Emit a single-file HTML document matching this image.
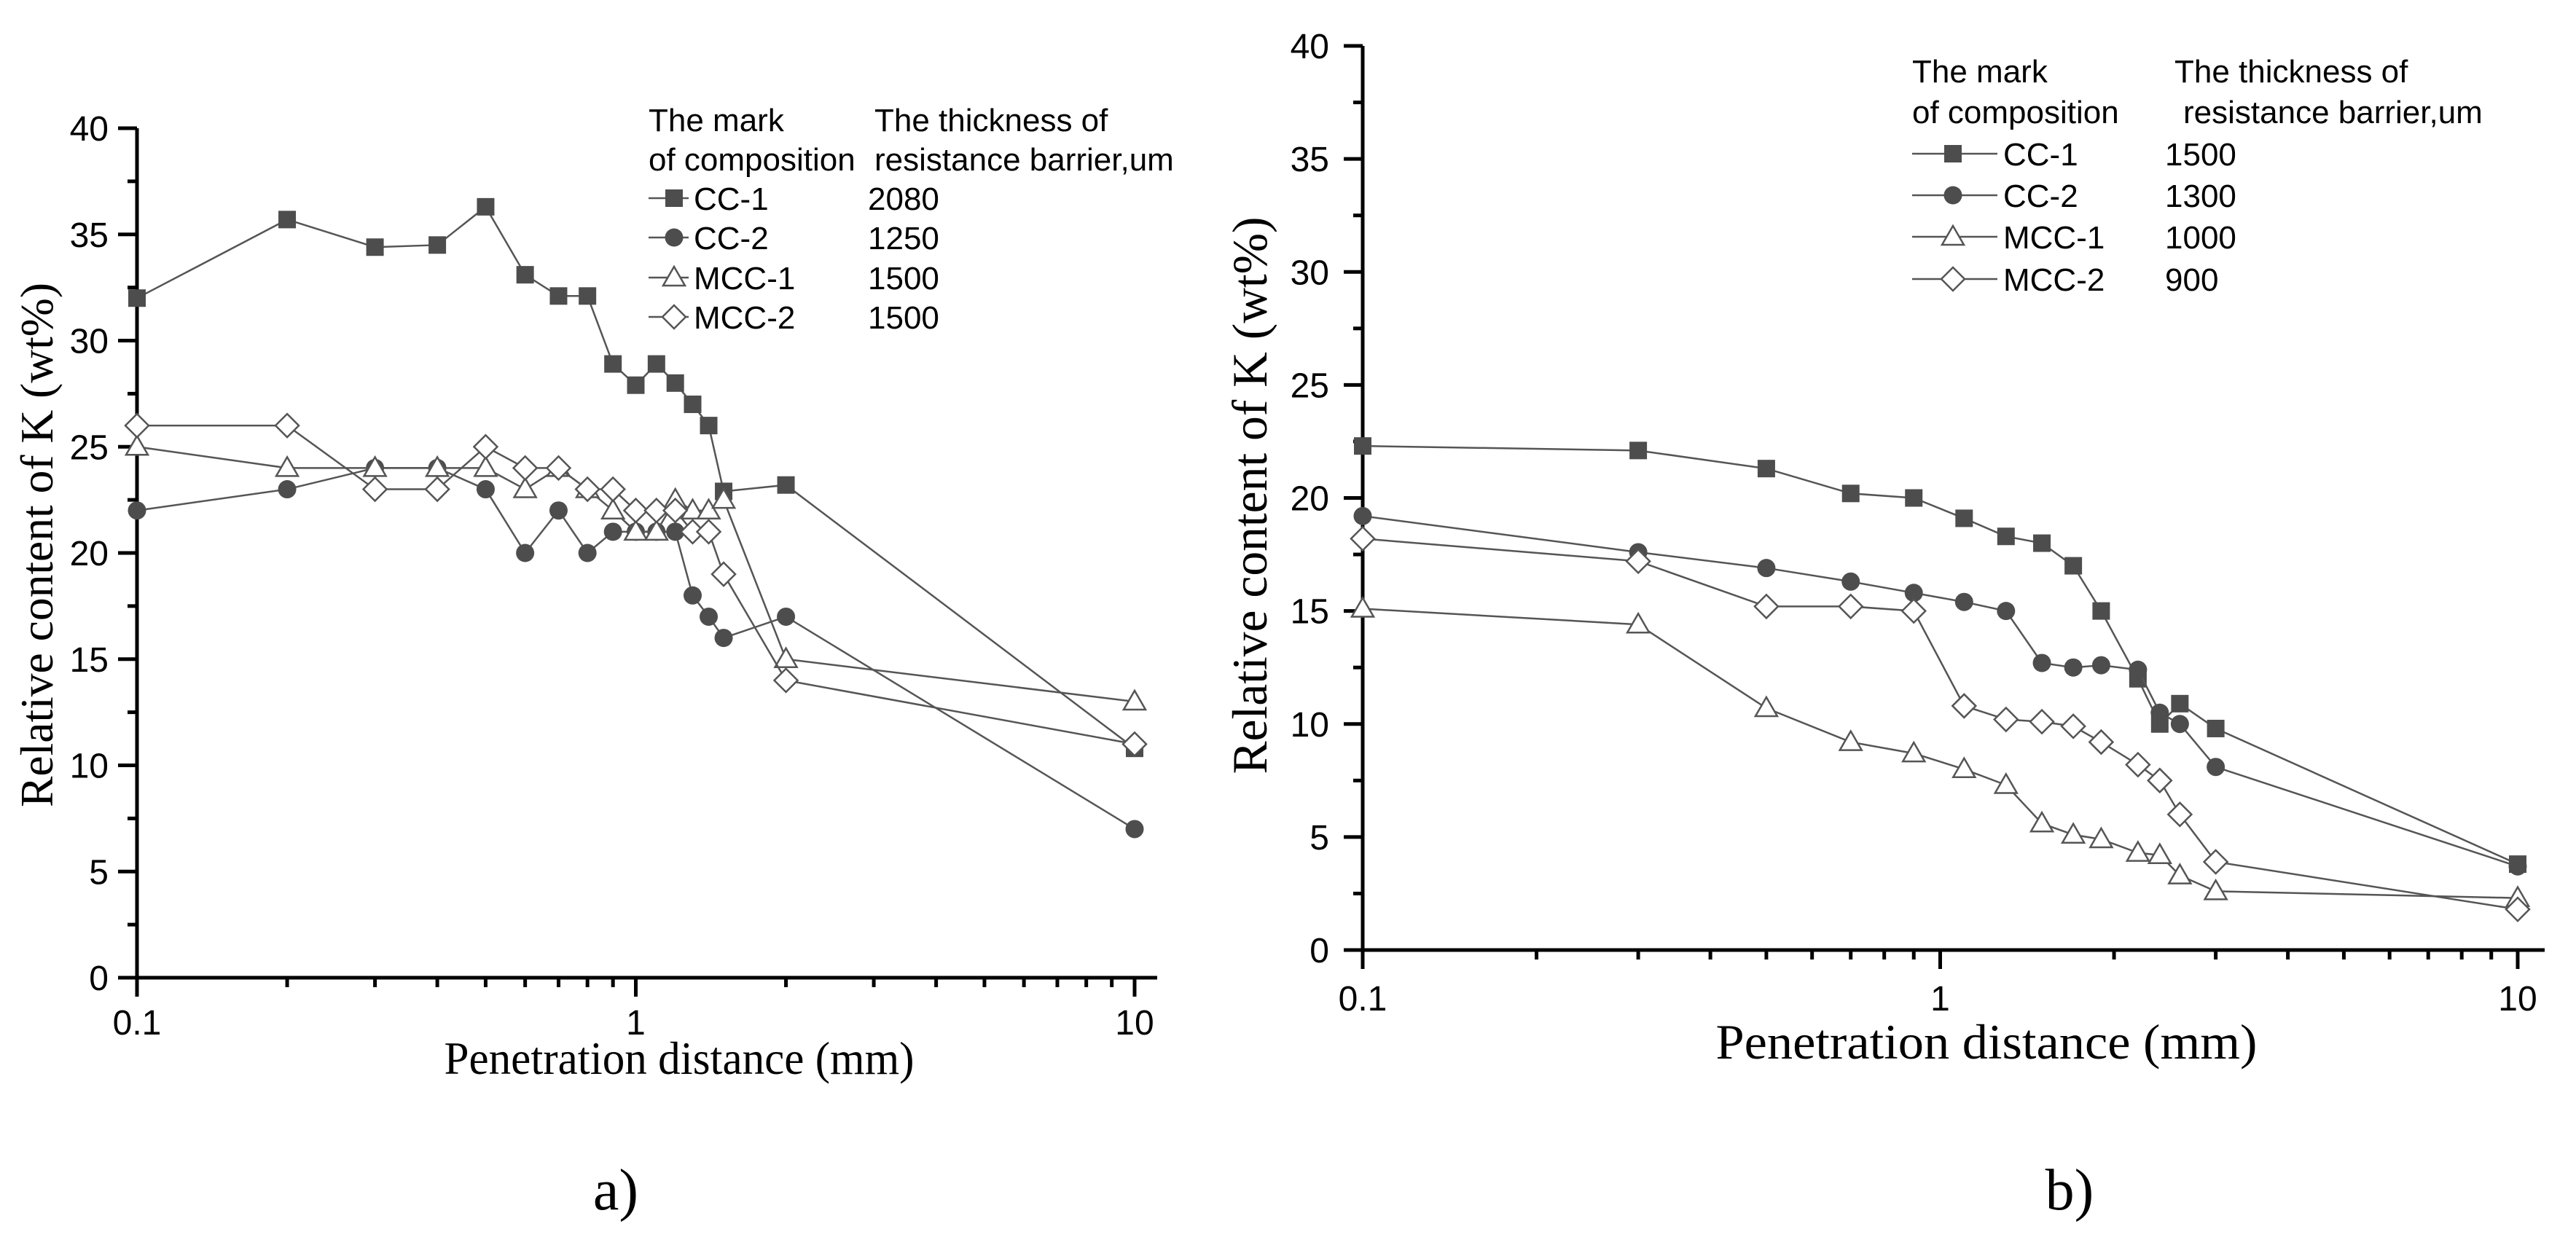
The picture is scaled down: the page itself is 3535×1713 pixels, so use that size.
<!DOCTYPE html>
<html><head><meta charset="utf-8"><style>
html,body{margin:0;padding:0;background:#fff;}
svg{display:block;}
</style></head><body>
<svg id="fig" width="3535" height="1713" viewBox="0 0 3535 1713" xmlns="http://www.w3.org/2000/svg">
<rect width="3535" height="1713" fill="#fff"/>
</svg>
<script>
// ---- data: panel a ----
const xA = [0.1,0.2,0.3,0.4,0.5,0.6,0.7,0.8,0.9,1.0,1.1,1.2,1.3,1.4,1.5,2,10];
const aCC1 = [32,35.7,34.4,34.5,36.3,33.1,32.1,32.1,28.9,27.9,28.9,28,27,26,22.9,23.2,10.8];
const aCC2 = [22,23,24,24,23,20,22,20,21,21,21,21,18,17,16,17,7];
const aMCC1 = [25,24,24,24,24,23,24,23,22,21,21,22.5,22,22,22.5,15,13];
const aMCC2 = [26,26,23,23,25,24,24,23,23,22,22,22,21,21,19,14,11];
const aValues = ["2080","1250","1500","1500"];
// ---- data: panel b ----
const xB = [0.1,0.3,0.5,0.7,0.9,1.1,1.3,1.5,1.7,1.9,2.2,2.4,2.6,3.0,10];
const bCC1 = [22.3,22.1,21.3,20.2,20.0,19.1,18.3,18.0,17.0,15.0,12.0,10.0,10.9,9.8,3.8];
const bCC2 = [19.2,17.6,16.9,16.3,15.8,15.4,15.0,12.7,12.5,12.6,12.4,10.5,10.0,8.1,3.7];
const bMCC1 = [15.1,14.4,10.7,9.2,8.7,8.0,7.3,5.6,5.1,4.9,4.3,4.2,3.3,2.6,2.3];
const bMCC2 = [18.2,17.2,15.2,15.2,15.0,10.8,10.2,10.1,9.9,9.2,8.2,7.5,6.0,3.9,1.8];
const bValues = ["1500","1300","1000","900"];
// ---- shared ----
const seriesNames = ["CC-1","CC-2","MCC-1","MCC-2"];
const yTicks = [0,5,10,15,20,25,30,35,40];
const xTickLabels = ["0.1","1","10"];

const NS="http://www.w3.org/2000/svg";
const svg=document.getElementById('fig');
function mk(tag,attrs,parent){const e=document.createElementNS(NS,tag);for(const k in attrs)e.setAttribute(k,attrs[k]);(parent||svg).appendChild(e);return e;}
const LINE="#555", FILL="#4d4d4d";

function marker(g,type,cx,cy){
  let m;
  if(type===0){m=mk('rect',{x:cx-12,y:cy-12,width:24,height:24,fill:FILL},g);}
  else if(type===1){m=mk('circle',{cx:cx,cy:cy,r:12.5,fill:FILL},g);}
  else if(type===2){m=mk('polygon',{points:`${cx},${cy-15} ${cx+15},${cy+11} ${cx-15},${cy+11}`,fill:"#fff",stroke:LINE,'stroke-width':2.5},g);}
  else {m=mk('polygon',{points:`${cx},${cy-16} ${cx+16},${cy} ${cx},${cy+16} ${cx-16},${cy}`,fill:"#fff",stroke:LINE,'stroke-width':2.5},g);}
  
  
}

function panel(P){
  const g=mk('g',{});
  
  
  const sx=v=>P.x0+(Math.log10(v)+1)/2*(P.x1-P.x0);
  const sy=v=>P.y0-v/40*(P.y0-P.y40);
  const ax=mk('g',{stroke:"#000",'stroke-width':5,fill:"none"},g);
  
  
  mk('line',{x1:P.x0,y1:P.y40,x2:P.x0,y2:P.y0+2.5},ax);
  mk('line',{x1:P.x0-26,y1:P.y0,x2:P.xe,y2:P.y0},ax);
  for(let v=0;v<=40;v+=2.5){
    const maj=v%5===0;
    mk('line',{x1:P.x0-(maj?26:13),y1:sy(v),x2:P.x0,y2:sy(v)},ax);
  }
  for(let d=-1;d<=1;d++){
    for(let k=1;k<=9;k++){
      const v=k*Math.pow(10,d);
      const x=sx(v); if(x>P.xe) continue;
      if(v>10.01) continue;
      mk('line',{x1:x,y1:P.y0,x2:x,y2:P.y0+(k===1?26:13)},ax);
    }
  }
  yTicks.forEach(v=>{
    const t=mk('text',{x:P.x0-P.ylOff,y:sy(v)+17,'text-anchor':'end','font-family':'Liberation Sans, sans-serif','font-size':48,fill:'#000'},g);
    t.textContent=v;
    
    
  });
  xTickLabels.forEach(l=>{
    const t=mk('text',{x:sx(parseFloat(l)),y:P.xlY,'text-anchor':'middle','font-family':'Liberation Sans, sans-serif','font-size':48,fill:'#000'},g);
    t.textContent=l;
    
    
  });
  const xt=mk('text',{x:P.xtX,y:P.xtY,'text-anchor':'middle','font-family':'Liberation Serif, serif','font-size':P.tfs,fill:'#000',textLength:P.xtL,lengthAdjust:'spacingAndGlyphs'},g);
  xt.textContent="Penetration distance (mm)";
  
  
  const yt=mk('text',{x:0,y:0,'text-anchor':'middle','font-family':'Liberation Serif, serif','font-size':P.tfs,fill:'#000',transform:`translate(${P.ytX},${P.ytY}) rotate(-90)`,textLength:P.ytL,lengthAdjust:'spacingAndGlyphs'},g);
  yt.textContent="Relative content of K (wt%)";
  
  
  const pl=mk('text',{x:P.plX,y:1660,'text-anchor':'middle','font-family':'Liberation Serif, serif','font-size':80,fill:'#000'},g);
  pl.textContent=P.label;
  
  
  P.series.forEach((s,i)=>{
    const sg=mk('g',{},g);
    
    
    const pts=P.xs.map((x,j)=>sx(x)+','+sy(s[j])).join(' ');
    const pl2=mk('polyline',{points:pts,fill:'none',stroke:LINE,'stroke-width':2.5},sg);
    
    
    P.xs.forEach((x,j)=>marker(sg,i,sx(x),sy(s[j])));
  });
  const lg=mk('g',{'font-family':'Liberation Sans, sans-serif','font-size':44,fill:'#000'},g);
  
  
  const L=P.leg;
  const hdr=[["The mark",L.hx,L.h1],["of composition",L.hx,L.h2],["The thickness of",L.vx1,L.h1],["resistance barrier,um",L.vx2,L.h2]];
  hdr.forEach(h=>{const t=mk('text',{x:h[1],y:h[2]},lg);t.textContent=h[0];
    
    });
  seriesNames.forEach((n,i)=>{
    const cy=L.ey[i];
    const e=mk('g',{},lg);
    
    
    mk('line',{x1:L.hx,y1:cy,x2:L.lx2,y2:cy,stroke:LINE,'stroke-width':2.5},e);
    marker(e,i,L.mx,cy);
    const t=mk('text',{x:L.tx,y:cy+16},e);t.textContent=n;
    const v=mk('text',{x:L.vx,y:cy+16},e);v.textContent=P.values[i];
  });
}

panel({name:'panel-a',label:'a)',x0:188,x1:1557,xe:1588,y0:1342,y40:176,ylOff:39,xlY:1420,
  tfs:64,xtX:932,xtY:1474,xtL:645,ytX:72,ytY:748,ytL:720,plX:845,
  xs:xA,series:[aCC1,aCC2,aMCC1,aMCC2],values:aValues,
  leg:{hx:890,h1:180,h2:234,vx1:1200,vx2:1200,ey:[272,326,381,435],lx2:945,mx:925,tx:952,vx:1191}});
panel({name:'panel-b',label:'b)',x0:1870,x1:3455,xe:3492,y0:1304,y40:63,ylOff:46,xlY:1387,
  tfs:68,xtX:2726,xtY:1453,xtL:743,ytX:1738,ytY:680,ytL:765,plX:2840,
  xs:xB,series:[bCC1,bCC2,bMCC1,bMCC2],values:bValues,
  leg:{hx:2624,h1:113,h2:169,vx1:2984,vx2:2996,ey:[211,268,325,383],lx2:2741,mx:2680,tx:2749,vx:2971}});
</script>
</body></html>
